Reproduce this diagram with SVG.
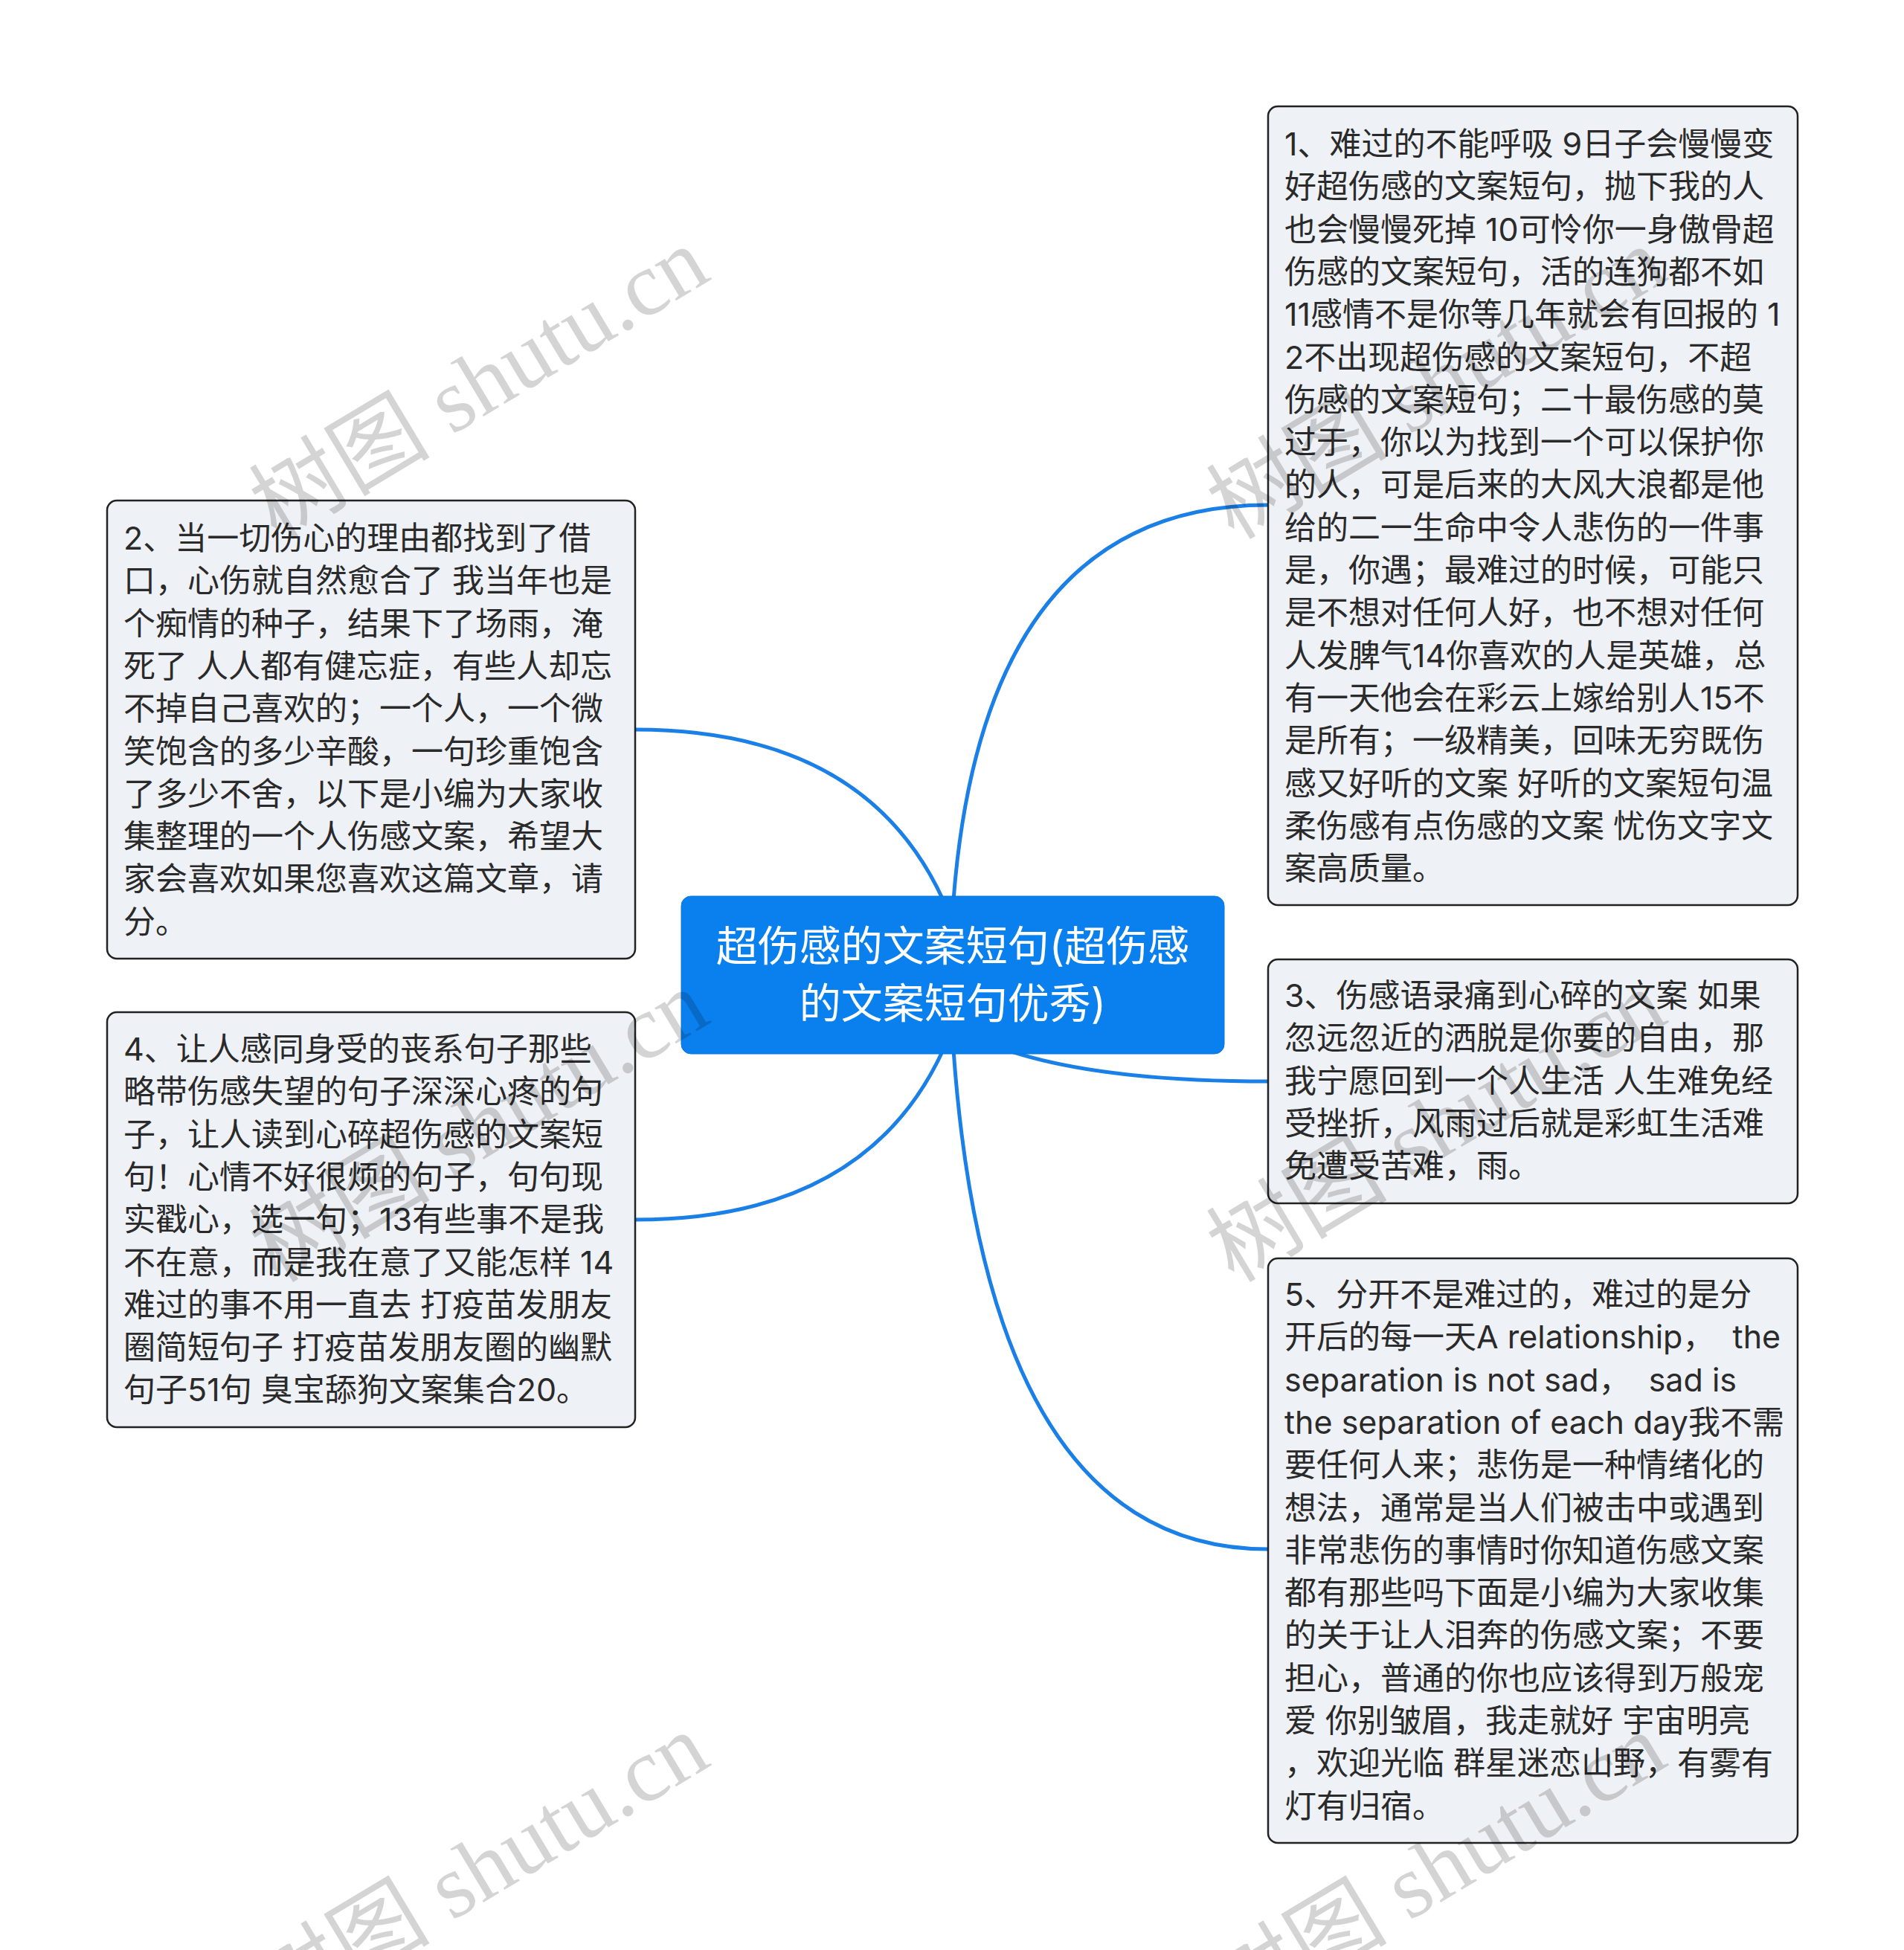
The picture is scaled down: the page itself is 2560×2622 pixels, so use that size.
<svg xmlns="http://www.w3.org/2000/svg" width="2560" height="2622" viewBox="0 0 2560 2622">
<style>
.edge{fill:none;stroke:#1a7fe6;stroke-width:5;stroke-linecap:round}
.box{fill:#eef1f5;stroke:#222;stroke-width:2.5}
.root{fill:#0a80ee;stroke:#0a74d8;stroke-width:1}
.t{font-family:"Inter","Noto Sans CJK SC",sans-serif;font-size:43px;fill:#2a2a2a}
.rt{font-family:"Inter","Noto Sans CJK SC",sans-serif;font-size:56px;fill:#fff;text-anchor:middle}
.wm{font-family:"Liberation Serif","Noto Sans CJK SC",serif;font-size:122px;fill:#000;fill-opacity:0.17}
</style>
<rect width="2560" height="2622" fill="#fff"/>
<g id="connectors">
<path class="edge" d="M1282 1210 Q1323 679 1705 679"/>
<path class="edge" d="M1268 1210 Q1163 981 854 981"/>
<path class="edge" d="M1268 1412 Q1163 1640 854 1640"/>
<path class="edge" d="M1305 1392 Q1430 1454 1705 1454"/>
<path class="edge" d="M1282 1412 Q1330 2083 1705 2083"/>
</g>
<g id="root">
<rect class="root" x="916" y="1205" width="730" height="212" rx="13"/>
<text class="rt" x="1281" y="1292">超伤感的文案短句(超伤感</text>
<text class="rt" x="1281" y="1369">的文案短句优秀)</text>
</g>
<g id="node1">
<rect class="box" x="1705" y="143" width="712" height="1074" rx="13"/>
<text class="t" x="1727" y="209">1、难过的不能呼吸 9日子会慢慢变</text>
<text class="t" x="1727" y="266.3">好超伤感的文案短句，抛下我的人</text>
<text class="t" x="1727" y="323.6">也会慢慢死掉 10可怜你一身傲骨超</text>
<text class="t" x="1727" y="380.9">伤感的文案短句，活的连狗都不如</text>
<text class="t" x="1727" y="438.2">11感情不是你等几年就会有回报的 1</text>
<text class="t" x="1727" y="495.5">2不出现超伤感的文案短句，不超</text>
<text class="t" x="1727" y="552.8">伤感的文案短句；二十最伤感的莫</text>
<text class="t" x="1727" y="610.1">过于，你以为找到一个可以保护你</text>
<text class="t" x="1727" y="667.4">的人，可是后来的大风大浪都是他</text>
<text class="t" x="1727" y="724.7">给的二一生命中令人悲伤的一件事</text>
<text class="t" x="1727" y="782">是，你遇；最难过的时候，可能只</text>
<text class="t" x="1727" y="839.3">是不想对任何人好，也不想对任何</text>
<text class="t" x="1727" y="896.6">人发脾气14你喜欢的人是英雄，总</text>
<text class="t" x="1727" y="953.9">有一天他会在彩云上嫁给别人15不</text>
<text class="t" x="1727" y="1011.2">是所有；一级精美，回味无穷既伤</text>
<text class="t" x="1727" y="1068.5">感又好听的文案 好听的文案短句温</text>
<text class="t" x="1727" y="1125.8">柔伤感有点伤感的文案 忧伤文字文</text>
<text class="t" x="1727" y="1183.1">案高质量。</text>
</g>
<g id="node2">
<rect class="box" x="144" y="673" width="710" height="616" rx="13"/>
<text class="t" x="166" y="739">2、当一切伤心的理由都找到了借</text>
<text class="t" x="166" y="796.3">口，心伤就自然愈合了 我当年也是</text>
<text class="t" x="166" y="853.6">个痴情的种子，结果下了场雨，淹</text>
<text class="t" x="166" y="910.9">死了 人人都有健忘症，有些人却忘</text>
<text class="t" x="166" y="968.2">不掉自己喜欢的；一个人，一个微</text>
<text class="t" x="166" y="1025.5">笑饱含的多少辛酸，一句珍重饱含</text>
<text class="t" x="166" y="1082.8">了多少不舍，以下是小编为大家收</text>
<text class="t" x="166" y="1140.1">集整理的一个人伤感文案，希望大</text>
<text class="t" x="166" y="1197.4">家会喜欢如果您喜欢这篇文章，请</text>
<text class="t" x="166" y="1254.7">分。</text>
</g>
<g id="node3">
<rect class="box" x="1705" y="1290" width="712" height="328" rx="13"/>
<text class="t" x="1727" y="1354">3、伤感语录痛到心碎的文案 如果</text>
<text class="t" x="1727" y="1411.3">忽远忽近的洒脱是你要的自由，那</text>
<text class="t" x="1727" y="1468.6">我宁愿回到一个人生活 人生难免经</text>
<text class="t" x="1727" y="1525.9">受挫折，风雨过后就是彩虹生活难</text>
<text class="t" x="1727" y="1583.2">免遭受苦难，雨。</text>
</g>
<g id="node4">
<rect class="box" x="144" y="1361" width="710" height="558" rx="13"/>
<text class="t" x="166" y="1426">4、让人感同身受的丧系句子那些</text>
<text class="t" x="166" y="1483.3">略带伤感失望的句子深深心疼的句</text>
<text class="t" x="166" y="1540.6">子，让人读到心碎超伤感的文案短</text>
<text class="t" x="166" y="1597.9">句！心情不好很烦的句子，句句现</text>
<text class="t" x="166" y="1655.2">实戳心，选一句；13有些事不是我</text>
<text class="t" x="166" y="1712.5">不在意，而是我在意了又能怎样 14</text>
<text class="t" x="166" y="1769.8">难过的事不用一直去 打疫苗发朋友</text>
<text class="t" x="166" y="1827.1">圈简短句子 打疫苗发朋友圈的幽默</text>
<text class="t" x="166" y="1884.4">句子51句 臭宝舔狗文案集合20。</text>
</g>
<g id="node5">
<rect class="box" x="1705" y="1692" width="712" height="786" rx="13"/>
<text class="t" x="1727" y="1756">5、分开不是难过的，难过的是分</text>
<text class="t" x="1727" y="1813.3" xml:space="preserve">开后的每一天A relationship，  the</text>
<text class="t" x="1727" y="1870.6" xml:space="preserve">separation is not sad，  sad is</text>
<text class="t" x="1727" y="1927.9">the separation of each day我不需</text>
<text class="t" x="1727" y="1985.2">要任何人来；悲伤是一种情绪化的</text>
<text class="t" x="1727" y="2042.5">想法，通常是当人们被击中或遇到</text>
<text class="t" x="1727" y="2099.8">非常悲伤的事情时你知道伤感文案</text>
<text class="t" x="1727" y="2157.1">都有那些吗下面是小编为大家收集</text>
<text class="t" x="1727" y="2214.4">的关于让人泪奔的伤感文案；不要</text>
<text class="t" x="1727" y="2271.7">担心，普通的你也应该得到万般宠</text>
<text class="t" x="1727" y="2329">爱 你别皱眉，我走就好 宇宙明亮</text>
<text class="t" x="1727" y="2386.3">，欢迎光临 群星迷恋山野，有雾有</text>
<text class="t" x="1727" y="2443.6">灯有归宿。</text>
</g>
<g id="watermarks">
<text class="wm" x="372" y="727" transform="rotate(-31 372 727)">树图 shutu.cn</text>
<text class="wm" x="372" y="1726" transform="rotate(-31 372 1726)">树图 shutu.cn</text>
<text class="wm" x="372" y="2725" transform="rotate(-31 372 2725)">树图 shutu.cn</text>
<text class="wm" x="1659" y="727" transform="rotate(-31 1659 727)">树图 shutu.cn</text>
<text class="wm" x="1659" y="1726" transform="rotate(-31 1659 1726)">树图 shutu.cn</text>
<text class="wm" x="1659" y="2725" transform="rotate(-31 1659 2725)">树图 shutu.cn</text>
</g>
</svg>
